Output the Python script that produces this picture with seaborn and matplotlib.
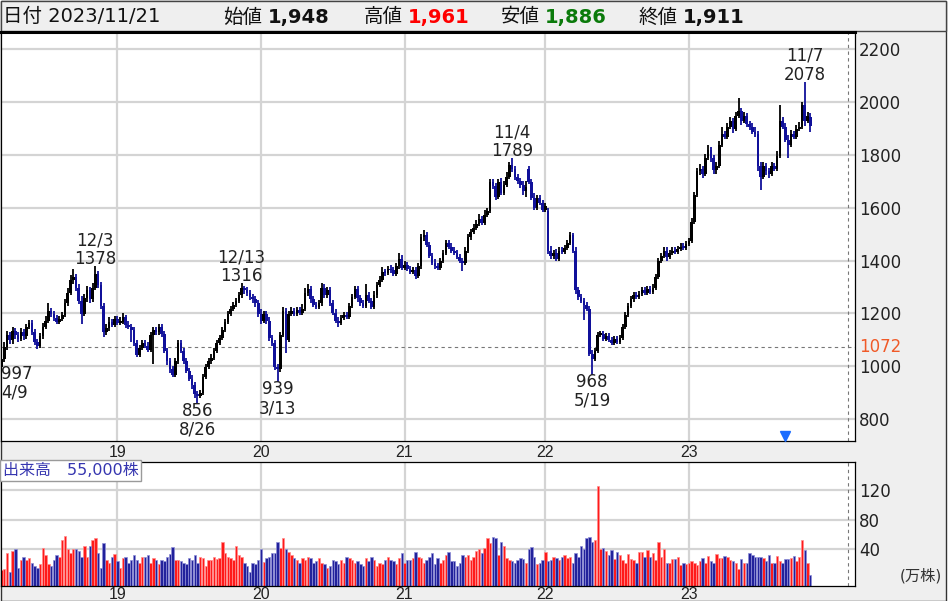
import matplotlib
matplotlib.use("Agg")
import matplotlib.pyplot as plt
import matplotlib.transforms as mtransforms
from matplotlib.patches import Rectangle
import numpy as np
import pandas as pd
import seaborn as sns

# ---------------- data (weekly candles, 2018/4 - 2023/11) ----------------
open_ = [
    1000, 1030, 1075, 1120, 1100, 1135, 1120, 1105, 1130, 1115,
    1150, 1165, 1130, 1095, 1080, 1115, 1150, 1175, 1210, 1200,
    1185, 1170, 1180, 1195, 1240, 1280, 1330, 1340, 1300, 1250,
    1200, 1260, 1290, 1255, 1300, 1350, 1310, 1230, 1130, 1145,
    1170, 1160, 1180, 1165, 1170, 1190, 1160, 1150, 1140, 1090,
    1045, 1070, 1090, 1080, 1065, 1120, 1140, 1130, 1150, 1125,
    1060, 1020, 990, 970, 1020, 1090, 1060, 1020, 985, 955,
    930, 895, 890, 900, 960, 1000, 1020, 1035, 1060, 1090,
    1110, 1140, 1170, 1200, 1220, 1235, 1250, 1270, 1300, 1290,
    1280, 1265, 1255, 1240, 1200, 1175, 1200, 1175, 1110, 1090,
    1000, 990, 1120, 1210, 1100, 1200, 1210, 1200, 1215, 1205,
    1220, 1280, 1295, 1255, 1235, 1225, 1240, 1300, 1270, 1290,
    1240, 1205, 1175, 1165, 1185, 1195, 1190, 1230, 1265, 1295,
    1260, 1240, 1230, 1270, 1250, 1225, 1270, 1310, 1330, 1360,
    1355, 1370, 1365, 1350, 1380, 1410, 1375, 1385, 1370, 1360,
    1365, 1345, 1380, 1490, 1500, 1460, 1420, 1395, 1380, 1375,
    1400, 1430, 1470, 1455, 1440, 1430, 1415, 1400, 1395, 1440,
    1490, 1510, 1525, 1540, 1560, 1545, 1575, 1590, 1700, 1685,
    1645, 1700, 1660, 1690, 1720, 1765, 1750, 1720, 1705, 1690,
    1665, 1750, 1700, 1640, 1600, 1640, 1620, 1595, 1590, 1440,
    1420, 1430, 1410, 1440, 1435, 1450, 1470, 1500, 1440, 1290,
    1265, 1250, 1235, 1220, 1050, 1030, 1060, 1120, 1125, 1105,
    1115, 1100, 1090, 1105, 1095, 1110, 1150, 1195, 1230, 1255,
    1270, 1265, 1275, 1290, 1280, 1295, 1285, 1300, 1340, 1400,
    1420, 1440, 1415, 1430, 1440, 1435, 1445, 1455, 1450, 1465,
    1475, 1550, 1650, 1740, 1750, 1730, 1790, 1820, 1790, 1745,
    1760, 1840, 1880, 1870, 1910, 1930, 1900, 1950, 1970, 1930,
    1950, 1920, 1910, 1890, 1880, 1760, 1720, 1760, 1740, 1730,
    1760, 1750, 1800, 1930, 1910, 1860, 1840, 1880, 1870, 1900,
    1910, 1990, 1930, 1948,
]
high = [
    1045, 1090, 1135, 1130, 1150, 1145, 1130, 1145, 1140, 1160,
    1175, 1175, 1140, 1105, 1125, 1165, 1190, 1240, 1220, 1210,
    1195, 1190, 1205, 1255, 1295, 1345, 1370, 1350, 1310, 1265,
    1275, 1305, 1300, 1315, 1378, 1360, 1320, 1240, 1160, 1185,
    1180, 1190, 1190, 1185, 1200, 1195, 1170, 1160, 1150, 1100,
    1080, 1100, 1100, 1090, 1130, 1150, 1150, 1160, 1160, 1135,
    1070, 1030, 1000, 1030, 1100, 1100, 1070, 1030, 995, 965,
    940, 905, 910, 970, 1010, 1030, 1045, 1070, 1100, 1120,
    1150, 1180, 1210, 1230, 1245, 1260, 1280, 1316, 1305, 1300,
    1290, 1275, 1265, 1250, 1215, 1210, 1210, 1185, 1120, 1100,
    1010, 1130, 1225, 1220, 1210, 1225, 1220, 1225, 1225, 1235,
    1295, 1310, 1305, 1265, 1245, 1250, 1315, 1310, 1300, 1300,
    1250, 1215, 1185, 1195, 1205, 1205, 1240, 1275, 1305, 1305,
    1270, 1250, 1310, 1280, 1260, 1285, 1320, 1340, 1375, 1370,
    1380, 1385, 1375, 1390, 1430, 1420, 1400, 1395, 1380, 1375,
    1375, 1390, 1500, 1515, 1510, 1470, 1430, 1405, 1390, 1410,
    1440, 1480, 1480, 1465, 1450, 1440, 1425, 1410, 1450, 1500,
    1520, 1540, 1555, 1575, 1570, 1590, 1600, 1710, 1710, 1695,
    1710, 1715, 1700, 1735, 1775, 1789, 1760, 1730, 1715, 1700,
    1700, 1760, 1710, 1655, 1650, 1650, 1630, 1620, 1600, 1455,
    1440, 1445, 1450, 1450, 1460, 1480, 1510, 1505, 1450, 1300,
    1275, 1260, 1245, 1230, 1060, 1070, 1130, 1135, 1135, 1125,
    1125, 1110, 1115, 1115, 1120, 1160, 1205, 1240, 1265, 1280,
    1280, 1285, 1300, 1300, 1305, 1305, 1310, 1350, 1410, 1430,
    1450, 1450, 1440, 1450, 1450, 1455, 1465, 1465, 1475, 1485,
    1560, 1660, 1750, 1765, 1760, 1805, 1840, 1830, 1800, 1775,
    1855, 1905, 1890, 1920, 1945, 1940, 1965, 2015, 1980, 1965,
    1960, 1930, 1920, 1905, 1890, 1775, 1775, 1770, 1750, 1775,
    1770, 1815, 1990, 1945, 1920, 1875, 1895, 1890, 1915, 1925,
    2000, 2078, 1965, 1961,
]
low = [
    997, 1015, 1060, 1085, 1085, 1105, 1090, 1095, 1100, 1105,
    1140, 1120, 1080, 1065, 1070, 1105, 1140, 1165, 1185, 1170,
    1160, 1160, 1170, 1185, 1230, 1270, 1310, 1285, 1235, 1160,
    1190, 1245, 1240, 1245, 1290, 1295, 1215, 1110, 1120, 1135,
    1150, 1150, 1155, 1155, 1160, 1145, 1140, 1090, 1075, 1035,
    1035, 1060, 1070, 1055, 1055, 1010, 1120, 1120, 1110, 1050,
    1005, 975, 960, 960, 1010, 1050, 1010, 975, 945, 915,
    880, 856, 878, 890, 950, 990, 1010, 1025, 1050, 1080,
    1100, 1130, 1160, 1190, 1210, 1225, 1240, 1260, 1275, 1265,
    1250, 1240, 1225, 1185, 1160, 1165, 1160, 1095, 1075, 985,
    939, 980, 1110, 1050, 1090, 1190, 1190, 1190, 1195, 1195,
    1210, 1265, 1240, 1225, 1215, 1215, 1230, 1260, 1260, 1230,
    1195, 1165, 1150, 1155, 1175, 1180, 1180, 1220, 1255, 1245,
    1230, 1220, 1220, 1240, 1215, 1215, 1260, 1300, 1320, 1340,
    1345, 1355, 1340, 1340, 1370, 1365, 1365, 1360, 1350, 1350,
    1330, 1335, 1370, 1475, 1450, 1410, 1385, 1370, 1365, 1365,
    1390, 1420, 1445, 1430, 1420, 1405, 1390, 1360, 1385, 1430,
    1480, 1500, 1515, 1530, 1535, 1535, 1565, 1580, 1670, 1630,
    1635, 1650, 1650, 1680, 1710, 1735, 1705, 1690, 1675, 1650,
    1640, 1690, 1630, 1590, 1590, 1610, 1585, 1585, 1425, 1405,
    1405, 1400, 1400, 1425, 1425, 1440, 1460, 1430, 1275, 1250,
    1240, 1175, 1210, 1040, 968, 1020, 1050, 1110, 1095, 1095,
    1090, 1080, 1080, 1085, 1085, 1100, 1140, 1185, 1220, 1245,
    1255, 1255, 1265, 1270, 1270, 1275, 1275, 1290, 1330, 1390,
    1410, 1400, 1405, 1420, 1425, 1425, 1435, 1440, 1440, 1455,
    1465, 1540, 1640, 1725, 1715, 1720, 1780, 1775, 1730, 1730,
    1750, 1830, 1860, 1860, 1900, 1885, 1890, 1940, 1915, 1920,
    1905, 1895, 1880, 1870, 1740, 1666, 1710, 1725, 1715, 1720,
    1740, 1740, 1790, 1900, 1850, 1790, 1830, 1860, 1860, 1890,
    1900, 1910, 1920, 1886,
]
close = [
    1030, 1075, 1120, 1100, 1135, 1120, 1105, 1130, 1115, 1150,
    1165, 1130, 1095, 1080, 1115, 1150, 1175, 1210, 1200, 1185,
    1170, 1180, 1195, 1240, 1280, 1330, 1340, 1300, 1250, 1200,
    1260, 1290, 1255, 1300, 1350, 1310, 1230, 1130, 1145, 1170,
    1160, 1180, 1165, 1170, 1190, 1160, 1150, 1140, 1090, 1045,
    1070, 1090, 1080, 1065, 1120, 1140, 1130, 1150, 1125, 1060,
    1020, 990, 970, 1020, 1090, 1060, 1020, 985, 955, 930,
    895, 890, 900, 960, 1000, 1020, 1035, 1060, 1090, 1110,
    1140, 1170, 1200, 1220, 1235, 1250, 1270, 1300, 1290, 1280,
    1265, 1255, 1240, 1200, 1175, 1200, 1175, 1110, 1090, 1000,
    990, 1120, 1210, 1100, 1200, 1210, 1200, 1215, 1205, 1220,
    1280, 1295, 1255, 1235, 1225, 1240, 1300, 1270, 1290, 1240,
    1205, 1175, 1165, 1185, 1195, 1190, 1230, 1265, 1295, 1260,
    1240, 1230, 1270, 1250, 1225, 1270, 1310, 1330, 1360, 1355,
    1370, 1365, 1350, 1380, 1410, 1375, 1385, 1370, 1360, 1365,
    1345, 1380, 1490, 1500, 1460, 1420, 1395, 1380, 1375, 1400,
    1430, 1470, 1455, 1440, 1430, 1415, 1400, 1395, 1440, 1490,
    1510, 1525, 1540, 1560, 1545, 1575, 1590, 1700, 1685, 1645,
    1700, 1660, 1690, 1720, 1765, 1750, 1720, 1705, 1690, 1665,
    1680, 1700, 1640, 1600, 1640, 1620, 1595, 1610, 1440, 1420,
    1430, 1410, 1440, 1435, 1450, 1470, 1500, 1440, 1290, 1265,
    1250, 1235, 1220, 1050, 1030, 1060, 1120, 1125, 1105, 1115,
    1100, 1090, 1105, 1095, 1110, 1150, 1195, 1230, 1255, 1270,
    1265, 1275, 1290, 1280, 1295, 1285, 1300, 1340, 1400, 1420,
    1440, 1415, 1430, 1440, 1435, 1445, 1455, 1450, 1465, 1475,
    1550, 1650, 1740, 1750, 1730, 1790, 1820, 1790, 1745, 1760,
    1840, 1880, 1870, 1910, 1930, 1900, 1950, 1970, 1930, 1950,
    1920, 1910, 1890, 1880, 1760, 1720, 1760, 1740, 1730, 1760,
    1750, 1800, 1930, 1910, 1860, 1840, 1880, 1870, 1900, 1910,
    1990, 1930, 1950, 1911,
]
# volume in 万株
volume = [
    12, 14, 35, 10, 38, 40, 15, 25, 30, 26,
    28, 22, 18, 15, 20, 42, 33, 20, 18, 25,
    32, 30, 52, 58, 40, 35, 40, 40, 38, 30,
    45, 30, 45, 52, 55, 35, 15, 48, 25, 22,
    30, 34, 24, 15, 28, 30, 22, 26, 32, 26,
    22, 30, 30, 33, 22, 28, 25, 20, 25, 24,
    30, 34, 43, 26, 25, 24, 22, 20, 28, 26,
    32, 22, 30, 28, 18, 26, 25, 30, 27, 28,
    50, 35, 30, 28, 25, 45, 33, 30, 22, 18,
    10, 22, 20, 25, 40, 23, 28, 30, 35, 35,
    50, 42, 55, 40, 36, 32, 28, 25, 22, 28,
    25, 30, 28, 22, 24, 28, 22, 20, 15, 18,
    26, 24, 20, 25, 22, 30, 28, 26, 22, 24,
    20, 18, 28, 24, 30, 26, 18, 22, 20, 25,
    30, 26, 24, 20, 28, 35, 22, 25, 25, 28,
    36, 30, 28, 22, 25, 30, 35, 20, 28, 22,
    25, 32, 36, 24, 24, 18, 22, 32, 30, 32,
    25, 30, 38, 40, 35, 42, 55, 48, 57, 55,
    32, 50, 45, 28, 26, 24, 22, 25, 28, 27,
    22, 40, 43, 30, 20, 22, 26, 36, 24, 25,
    30, 28, 26, 30, 32, 28, 30, 22, 35, 30,
    45, 40, 55, 57, 50, 52, 125, 40, 42, 38,
    33, 39, 27, 37, 32, 25, 22, 34, 27, 25,
    22, 36, 36, 29, 39, 29, 35, 25, 50, 30,
    41, 22, 22, 27, 27, 29, 19, 22, 20, 22,
    24, 22, 19, 24, 28, 22, 31, 24, 21, 34,
    28, 28, 31, 29, 26, 24, 22, 13, 27, 22,
    22, 35, 32, 30, 30, 29, 28, 24, 32, 22,
    22, 31, 24, 22, 27, 27, 28, 31, 24, 29,
    52, 39, 22, 5.5,
]

year_start = [42, 94, 146, 197, 249]          # first weekly candle of each year
year_labels = ["19", "20", "21", "22", "23"]
price_ticks = [800, 1000, 1200, 1400, 1600, 1800, 2000, 2200]
vol_ticks = [40, 80, 120]
ref_price = 1072

mark_index = [0, 34, 71, 87, 100, 185, 214, 291]
mark_value = [997, 1378, 856, 1316, 939, 1789, 968, 2078]
mark_date = ["4/9", "12/3", "8/26", "12/13", "3/13", "11/4", "5/19", "11/7"]
mark_kind = ["low", "high", "low", "high", "low", "high", "low", "high"]

event_index = 284          # ▼ marker
today_line = 306.7         # dashed right-hand marker line

hdr_date = "2023/11/21"
hdr_names = ["始値", "高値", "安値", "終値"]
hdr_values = ["1,948", "1,961", "1,886", "1,911"]
vol_caption = "出来高　55,000株"

# ---------------- style ----------------
sns.set_theme(style="white")
plt.rcParams["font.family"] = ["DejaVu Sans", "Noto Sans CJK JP"]

W, H = 952, 601
fig = plt.figure(figsize=(W / 100, H / 100), dpi=100)

def box(x0, y0, x1, y1):
    return [x0 / W, 1 - y1 / H, (x1 - x0) / W, (y1 - y0) / H]

GRAY = "#efefef"
GRID = "#d4d4d4"
UP = "#000000"
DOWN = "#10109a"

# gray chart background (header, right scale column, date strips)
fig.patches.append(Rectangle((0.5 / W, 0), 945 / W, 1 - 0.5 / H, transform=fig.transFigure,
                             facecolor=GRAY, edgecolor="#333333", lw=1, zorder=-5))

n = len(close)
idx = np.arange(n)
O = np.array(open_, float); C = np.array(close, float)
Hh = np.array(high, float); L = np.array(low, float)
up = C >= O
ccol = np.where(up, UP, DOWN)

# ---------------- main price panel ----------------
ax = fig.add_axes(box(1, 32, 855, 441))
ax.set_facecolor("white")
ax.set_xlim(-0.18, 309.2)
ax.set_ylim(716.8, 2266.2)
ax.set_axisbelow(True)
ax.grid(True, color=GRID, lw=1.6)
ax.set_yticks(price_ticks)
ax.set_xticks(year_start)
ax.set_xticklabels(year_labels, fontfamily="Liberation Sans", fontsize=11.5, color="#222222")
ax.yaxis.tick_right()
ax.tick_params(axis="y", length=0, pad=3, labelsize=12, labelcolor="#222222")
ax.tick_params(axis="x", length=0, pad=3)
for s in ax.spines.values():
    s.set_color("black"); s.set_linewidth(0.9)
ax.spines["top"].set_linewidth(2.2)

ax.axhline(ref_price, color="#777777", lw=0.8, ls=(0, (3, 3)), zorder=1)
ax.axvline(today_line, color="#777777", lw=0.8, ls=(0, (3, 3)), zorder=1)
off = mtransforms.offset_copy(ax.get_yaxis_transform(), fig=fig, x=4, y=0, units="dots")
ax.text(1.0, ref_price, str(ref_price), transform=off, ha="left", va="center",
        fontsize=12, color="#f05a28", clip_on=False)

ax.vlines(idx, L, Hh, colors=ccol, lw=1.3, zorder=3)
ax.bar(idx, np.maximum(np.abs(C - O), 7), bottom=np.minimum(O, C) - 2, width=0.95,
       color=ccol, linewidth=0, zorder=4)

for i, v, d, k in zip(mark_index, mark_value, mark_date, mark_kind):
    ha = "left" if i == 0 else "center"
    xx = i - 0.2 if i == 0 else i
    if k == "high":
        ax.annotate(f"{d}\n{v}", (xx, v), xytext=(0, -2), textcoords="offset pixels",
                    ha=ha, va="bottom", fontsize=12, color="#222222", linespacing=1.05, zorder=6)
    else:
        ax.annotate(f"{v}\n{d}", (xx, v), xytext=(0, 2), textcoords="offset pixels",
                    ha=ha, va="top", fontsize=12, color="#222222", linespacing=1.05, zorder=6)

ax.plot([event_index], [0.012], transform=ax.get_xaxis_transform(), marker="v",
        ms=6.5, color="#1a6cff", ls="none", zorder=6, clip_on=False)

# ---------------- volume panel ----------------
axv = fig.add_axes(box(1, 462, 855, 586))
axv.set_facecolor("white")
vol_base = -9.4
direction = np.where(C > O, "up", np.where(C < O, "down", "flat"))
vdf = pd.DataFrame({"i": idx, "vol": volume, "dir": direction})
pal = {"up": "#ff1a1a", "down": "#22229c", "flat": "#8c8c8c"}
edge = {"#ff1a1a": "#ff8c8c", "#22229c": "#8e8ed6", "#8c8c8c": "#c8c8c8"}
sns.barplot(data=vdf, x="i", y="vol", hue="dir", palette=pal, dodge=False, native_scale=True,
            width=0.88, saturation=1, errorbar=None, legend=False, linewidth=0, ax=axv)
for p in axv.patches:
    h = p.get_height()
    p.set_y(vol_base)
    p.set_height(h - vol_base)
    fc = matplotlib.colors.to_hex(p.get_facecolor())
    p.set_edgecolor(edge.get(fc, fc)); p.set_linewidth(0.5)
axv.set_xlim(-0.18, 309.2)
axv.set_ylim(vol_base, 157.6)
axv.set_axisbelow(True)
axv.grid(True, color=GRID, lw=1.6)
axv.set_yticks(vol_ticks)
axv.set_xticks(year_start)
axv.set_xticklabels(year_labels, fontfamily="Liberation Sans", fontsize=11.5, color="#222222")
axv.set_xlabel(""); axv.set_ylabel("")
axv.yaxis.tick_right()
axv.tick_params(axis="y", length=0, pad=3, labelsize=12, labelcolor="#222222")
axv.tick_params(axis="x", length=0, pad=1)
for s in axv.spines.values():
    s.set_color("black"); s.set_linewidth(0.9)
axv.axvline(today_line, color="#777777", lw=0.8, ls=(0, (3, 3)), zorder=1)
axv.text(0.002, 0.992, vol_caption, transform=axv.transAxes, ha="left", va="top",
         fontsize=11.5, color="#3636b0", zorder=10,
         bbox=dict(boxstyle="square,pad=0.18", fc="white", ec="#9a9a9a", lw=1))
fig.text(942 / W, 1 - 576 / H, "(万株)", ha="right", va="center", fontsize=11, color="#333333")

# ---------------- header ----------------
fig.patches.append(Rectangle((1 / W, 1 - 31 / H), 945 / W, 30 / H, transform=fig.transFigure,
                             facecolor=GRAY, edgecolor="#444444", lw=1, zorder=-4))
hy = 1 - 17 / H
fig.text(3 / W, hy, "日付 " + hdr_date, ha="left", va="center", fontsize=14, color="#111111")
name_x = [223, 364, 501, 639]
val_x = [268, 408, 545, 683]
val_col = ["#111111", "#ff0000", "#0b7a0b", "#111111"]
for nm, vv, nx, vx, vc in zip(hdr_names, hdr_values, name_x, val_x, val_col):
    fig.text(nx / W, hy, nm, ha="left", va="center", fontsize=14, color="#111111")
    fig.text(vx / W, hy, vv, ha="left", va="center", fontsize=14, color=vc, fontweight="bold")

fig.savefig("out.png", dpi=100)
